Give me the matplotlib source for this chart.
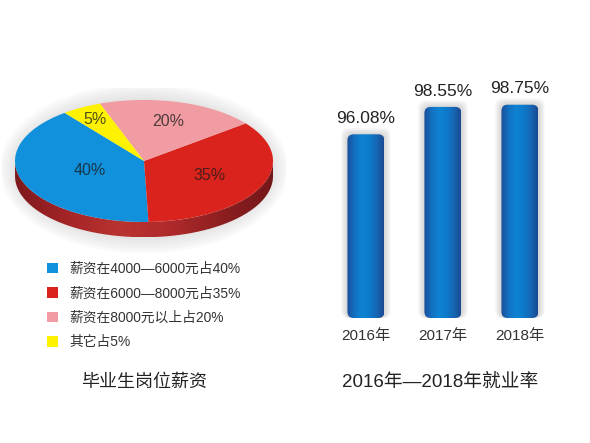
import matplotlib
matplotlib.use('Agg')
import matplotlib.pyplot as plt
import numpy as np
from matplotlib.patches import FancyBboxPatch, Ellipse, PathPatch, Patch
from matplotlib.path import Path
from matplotlib.colors import LinearSegmentedColormap

plt.rcParams['font.family'] = ['Liberation Sans', 'Noto Sans CJK SC', 'DejaVu Sans']

# salary pie data
salary_labels = ['薪资在4000—6000元占40%', '薪资在6000—8000元占35%',
                 '薪资在8000元以上占20%', '其它占5%']
salary_share = [40, 35, 20, 5]
salary_pct = ['40%', '35%', '20%', '5%']
salary_colors = ['#1190db', '#d9231c', '#f09ca2', '#fff200']

# employment rate data
years = ['2016年', '2017年', '2018年']
employ_rate = [96.08, 98.55, 98.75]

fig = plt.figure(figsize=(5.9, 4.43), dpi=100)
fig.patch.set_facecolor('white')

# ---- pie (flattened, with a dark red rim) ----
axp = fig.add_axes([0.0036, 0.430, 0.481, 0.372])
axp.axis('off')
depth = 0.25
start = 128

# soft shadow
for i in range(6):
    ex = 0.02 * (i + 1)
    ey = 0.045 * (i + 1)
    axp.add_patch(Ellipse((0, -depth / 2), 2 + 2 * ex, 2 + depth + 2 * ey,
                          color='#777777', alpha=0.03, lw=0, zorder=0))

# rim: lower half of the ellipse extruded downwards, shaded left to right
t = np.linspace(np.pi, 2 * np.pi, 120)
rim_pts = np.concatenate([np.c_[np.cos(t), np.sin(t) - depth],
                          np.c_[np.cos(t[::-1]), np.sin(t[::-1])]])
rim = PathPatch(Path(rim_pts), facecolor='none', lw=0, zorder=1)
axp.add_patch(rim)
rim_cmap = LinearSegmentedColormap.from_list(
    'rim', ['#7e1a1c', '#a52427', '#b93430', '#b12a2b', '#8e1f21', '#741719'])
rim_im = axp.imshow(np.linspace(0, 1, 64).reshape(1, -1), cmap=rim_cmap,
                    extent=(-1, 1, -1 - depth, 0), aspect='auto', zorder=1)
rim_im.set_clip_path(rim)

wedges, _ = axp.pie(salary_share, colors=salary_colors, startangle=start,
                    radius=1, wedgeprops=dict(lw=0, zorder=2))
label_r = [0.45, 0.56, 0.68, 0.78]
for w, txt, r in zip(wedges, salary_pct, label_r):
    mid = np.deg2rad((w.theta1 + w.theta2) / 2)
    axp.text(r * np.cos(mid), r * np.sin(mid), txt, ha='center', va='center',
             fontsize=11.5, color='#1a1a1a', alpha=0.75, zorder=3)
axp.set_aspect('auto')
axp.set_xlim(-1.1, 1.1)
axp.set_ylim(-1.5, 1.2)

fig.legend(handles=[Patch(facecolor=c, lw=0) for c in salary_colors],
           labels=salary_labels, loc='upper left',
           bbox_to_anchor=(47 / 590, 1 - 262 / 443), frameon=False,
           handlelength=0.8, handleheight=0.8, handletextpad=0.8,
           labelspacing=0.76, borderpad=0, borderaxespad=0,
           fontsize=9.9, labelcolor='#333333')

fig.text(144 / 590, 1 - 382 / 443, '毕业生岗位薪资', ha='center', va='center',
         fontsize=13, color='#222222')

# ---- rounded gradient bars ----
base = 79.5
px_per_unit = 11.08
axb = fig.add_axes([312 / 590, (443 - 318) / 443, 261.8 / 590, 258 / 443])
axb.set_xlim(-0.7, 2.7)
axb.set_ylim(base, base + 258 / px_per_unit)
for s in axb.spines.values():
    s.set_visible(False)
axb.set_yticks([])

x = np.arange(len(years))
bars = axb.bar(x, np.array(employ_rate) - base, bottom=base, width=0.48,
               color='none', lw=0)

aspect = (261.8 / 3.4) / px_per_unit
cmap = LinearSegmentedColormap.from_list(
    'barblue', ['#1a4f9a', '#1470c0', '#0f82d2', '#0c7bcb', '#1668b5', '#1b4a92'])
grad = np.linspace(0, 1, 64).reshape(1, -1)
for b in bars:
    bx, by, bw, bh = b.get_x(), b.get_y(), b.get_width(), b.get_height()
    for i in range(6):
        p = 0.014 * (i + 1)
        axb.add_patch(FancyBboxPatch((bx - p, by), bw + 2 * p, bh + p * aspect,
                                     boxstyle='round,pad=0,rounding_size=0.1',
                                     mutation_aspect=aspect, color='#777777',
                                     alpha=0.05, lw=0, zorder=1, clip_on=False))
    fb = FancyBboxPatch((bx, by), bw, bh, boxstyle='round,pad=0,rounding_size=0.08',
                        mutation_aspect=aspect, facecolor='none', lw=0, zorder=2)
    axb.add_patch(fb)
    im = axb.imshow(grad, cmap=cmap, extent=(bx, bx + bw, by, by + bh),
                    aspect='auto', zorder=2)
    im.set_clip_path(fb)

for xi, v in zip(x, employ_rate):
    axb.annotate(f'{v:.2f}%', (xi, v), xytext=(0, 6), textcoords='offset points',
                 ha='center', va='bottom', fontsize=12.5, color='#222222')

axb.set_xlim(-0.7, 2.7)
axb.set_ylim(base, base + 258 / px_per_unit)
axb.set_xticks(x, years)
axb.tick_params(axis='x', length=0, pad=8, labelsize=11, colors='#333333')

fig.text(440 / 590, 1 - 382 / 443, '2016年—2018年就业率', ha='center', va='center',
         fontsize=13.5, color='#222222')

fig.savefig('out.png', dpi=100)
